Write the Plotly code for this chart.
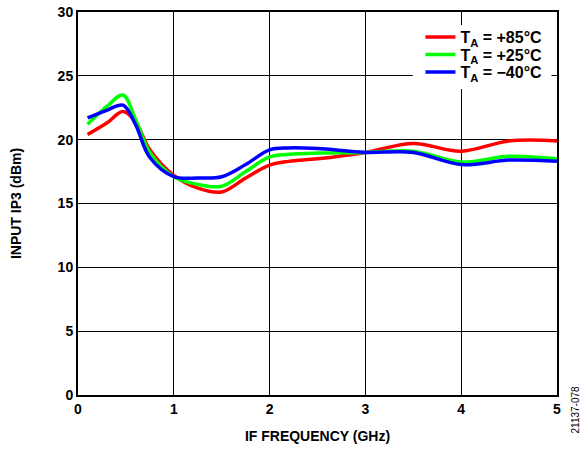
import plotly.graph_objects as go

freq_ghz = [0.1, 0.3, 0.47, 0.6, 0.75, 1.0, 1.25, 1.5, 1.75, 2.0, 2.2, 2.5, 3.0, 3.5, 4.0, 4.5, 5.0]
ip3_p85 = [20.4, 21.3, 22.2, 21.4, 19.2, 17.2, 16.2, 15.9, 17.0, 18.0, 18.3, 18.5, 19.0, 19.7, 19.1, 19.9, 19.9]
ip3_p25 = [21.2, 22.6, 23.5, 21.6, 19.0, 17.1, 16.5, 16.35, 17.5, 18.65, 18.85, 18.95, 19.0, 19.1, 18.25, 18.7, 18.5]
ip3_m40 = [21.7, 22.3, 22.7, 21.2, 18.6, 17.1, 17.0, 17.1, 18.05, 19.2, 19.35, 19.3, 19.0, 19.0, 18.05, 18.4, 18.3]

series_names = ["T<sub>A</sub> = +85°C", "T<sub>A</sub> = +25°C", "T<sub>A</sub> = −40°C"]
series_vals = [ip3_p85, ip3_p25, ip3_m40]
series_colors = ["#ff0000", "#00ff00", "#0000ff"]

x_ticks = [0, 1, 2, 3, 4, 5]
y_ticks = [0, 5, 10, 15, 20, 25, 30]

FAM = "Liberation Sans, Arial, sans-serif"
legend_ids = ["legend", "legend2", "legend3"]
legend_rows_y = [0.9347, 0.889, 0.843]

fig = go.Figure()
for name, vals, col, lid in zip(series_names, series_vals, series_colors, legend_ids):
    fig.add_trace(go.Scatter(x=freq_ghz, y=vals, name=name, mode="lines", legend=lid,
                             line=dict(color=col, width=3.5, shape="spline", smoothing=1.0)))

leg_common = dict(x=0.980, xanchor="right", yanchor="middle", bgcolor="rgba(0,0,0,0)", borderwidth=0,
                  font=dict(family=FAM, size=16, color="black", weight="bold"),
                  itemwidth=30)

# white backdrop behind the legend (hides the grid there)
fig.add_shape(type="rect", xref="paper", yref="paper", x0=0.6987, x1=0.9885, y0=0.799, y1=0.966,
              fillcolor="white", line=dict(width=0), layer="above")

fig.update_layout(
    width=588, height=450,
    margin=dict(l=78, r=30.5, t=12, b=55, autoexpand=False),
    paper_bgcolor="white", plot_bgcolor="white",
    font=dict(family=FAM, size=14, color="black"),
    showlegend=True,
    legend=dict(y=legend_rows_y[0], **leg_common),
    legend2=dict(y=legend_rows_y[1], **leg_common),
    legend3=dict(y=legend_rows_y[2], **leg_common),
    xaxis=dict(range=[0, 5], tickvals=x_ticks, ticktext=[str(v) for v in x_ticks],
               showgrid=True, gridcolor="black", gridwidth=1,
               showline=True, linecolor="black", linewidth=2, mirror=True,
               zeroline=False, ticks="", automargin=False,
               tickfont=dict(family=FAM, size=14, weight="bold", color="black"),
               title=dict(text="IF FREQUENCY (GHz)", font=dict(family=FAM, size=14, weight="bold", color="black"))),
    yaxis=dict(range=[0, 30], tickvals=y_ticks, ticktext=[str(v) for v in y_ticks],
               showgrid=True, gridcolor="black", gridwidth=1,
               showline=True, linecolor="black", linewidth=2, mirror=True,
               zeroline=False, ticks="", automargin=True,
               tickfont=dict(family=FAM, size=14, weight="bold", color="black"),
               title=dict(text="INPUT IP3 (dBm)", standoff=33,
                          font=dict(family=FAM, size=14, weight="bold", color="black"))),
)
fig.add_annotation(text="21137-078", xref="paper", yref="paper", x=1.0, y=0.0,
                   xshift=17.5, yshift=-15, textangle=-90, showarrow=False,
                   font=dict(family=FAM, size=10, color="black"), xanchor="center", yanchor="middle")
fig.write_html("out.html", config={"displayModeBar": False},
               post_script="document.body.style.margin='0';document.body.style.overflow='hidden';")
